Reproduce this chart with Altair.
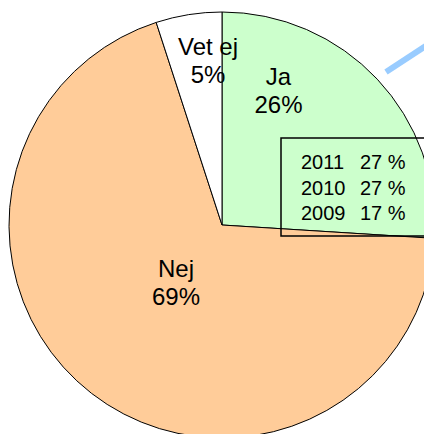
import altair as alt
import pandas as pd

# ---- data ----
categories = ["Ja", "Nej", "Vet ej"]
shares = [26, 69, 5]
slice_colors = ["#ccffcc", "#ffcc99", "#ffffff"]

years = ["2011", "2010", "2009"]
ja_by_year = [27, 27, 17]

FONT = "Liberation Sans"
W, H = 416, 426          # view size (page margin 8px)
CX, CY, R = 214, 217, 213  # pie centre / radius in view pixels

pie_df = pd.DataFrame({
    "category": categories,
    "share": shares,
    "order": list(range(len(categories))),
})

pie = alt.Chart(pie_df).mark_arc(outerRadius=R, stroke="black", strokeWidth=1).encode(
    theta=alt.Theta("share:Q", stack=True),
    order=alt.Order("order:Q"),
    color=alt.Color("category:N",
                    scale=alt.Scale(domain=categories, range=slice_colors),
                    legend=None),
    x=alt.value(CX),
    y=alt.value(CY),
)


def slice_label(cat, x, y):
    return (
        alt.Chart(pie_df)
        .transform_filter(alt.datum.category == cat)
        .transform_calculate(label=alt.datum.category + "\n" + alt.datum.share + "%")
        .mark_text(font=FONT, fontSize=24, align="center", baseline="alphabetic",
                   lineBreak="\n", lineHeight=28, color="black")
        .encode(text="label:N", x=alt.value(x), y=alt.value(y))
    )


labels = [
    slice_label("Vet ej", 200, 47),
    slice_label("Ja", 270.5, 77),
    slice_label("Nej", 168, 269),
]

box_df = pd.DataFrame({"year": years, "pct": [f"{v} %" for v in ja_by_year]})
row_y = alt.Y("year:N", sort=None, axis=None,
              scale=alt.Scale(type="point", range=[161, 212], padding=0))

box_years = alt.Chart(box_df).mark_text(
    font=FONT, fontSize=20, align="left", baseline="alphabetic", color="black"
).encode(text="year:N", y=row_y, x=alt.value(293))

box_pcts = alt.Chart(box_df).mark_text(
    font=FONT, fontSize=20, align="left", baseline="alphabetic", color="black"
).encode(text="pct:N", y=row_y, x=alt.value(352))

one = pd.DataFrame({"k": [0]})
box = alt.Chart(one).mark_rect(fillOpacity=0, stroke="black", strokeWidth=1.5).encode(
    x=alt.value(273), x2=alt.value(423), y=alt.value(130), y2=alt.value(228)
)

pointer = alt.Chart(one).mark_rule(color="#99ccff", strokeWidth=6, strokeCap="butt").encode(
    x=alt.value(378), y=alt.value(64), x2=alt.value(446), y2=alt.value(19.5)
)

chart = (
    alt.layer(pie, *labels, box, box_years, box_pcts, pointer)
    .properties(width=W, height=H, padding=0,
                autosize=alt.AutoSizeParams(type="none"))
    .configure_view(stroke=None)
)

chart.save("out.html", embed_options={"renderer": "svg", "actions": False})
